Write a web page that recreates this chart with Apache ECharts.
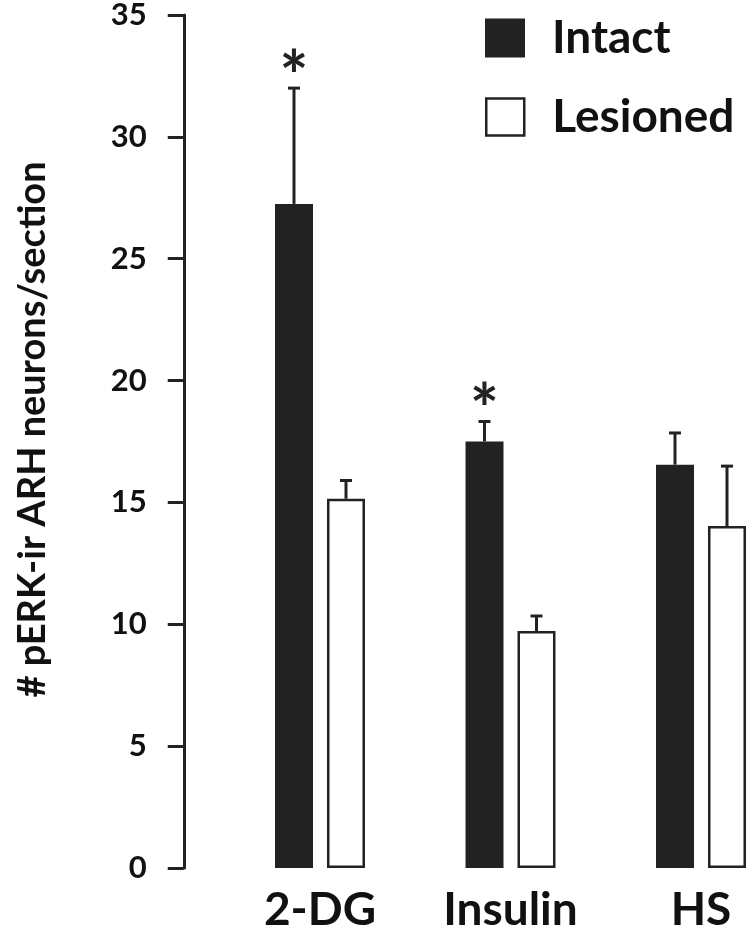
<!DOCTYPE html>
<html>
<head>
<meta charset="utf-8">
<script src="https://cdn.jsdelivr.net/npm/echarts@6/dist/echarts.min.js"></script>
<style>
html, body { margin: 0; padding: 0; background: #fff; }
#chart { width: 750px; height: 935px; }
</style>
</head>
<body>
<div id="chart"></div>
<script>
// data
const categories = ['2-DG', 'Insulin', 'HS'];
const intactValues = [27.25, 17.5, 16.55];
const intactErrors = [4.75, 0.82, 1.3];
const lesionedValues = [15.15, 9.72, 14.03];
const lesionedErrors = [0.75, 0.62, 2.46];
const intactSignificant = [true, true, false];
const yMin = 0;
const yMax = 35;
const yInterval = 5;

const INK = '#222';
const FONT = 'Lato';
const BAR_WIDTH = 38;
const BAR_OFFSET = 26; // half the distance between the centres of a bar pair

function errorBarSeries(name, values, errors, offset, flags) {
  return {
    type: 'custom',
    name: name + ' SEM',
    z: 1,
    silent: true,
    data: values.map((v, i) => [i, v, v + errors[i], flags && flags[i] ? 1 : 0]),
    renderItem(params, api) {
      const base = api.coord([api.value(0), api.value(1)]);
      const top = api.coord([api.value(0), api.value(2)]);
      const x = base[0] + offset;
      const children = [
        { type: 'line', shape: { x1: x, y1: base[1], x2: x, y2: top[1] }, style: { stroke: INK, lineWidth: 3 } },
        { type: 'line', shape: { x1: x - 6, y1: top[1], x2: x + 6, y2: top[1] }, style: { stroke: INK, lineWidth: 3 } }
      ];
      if (api.value(3)) {
        children.push({
          type: 'text',
          x: x,
          y: top[1] - 9,
          style: {
            text: '*',
            fill: INK,
            font: 'bold 68px ' + FONT,
            align: 'center',
            verticalAlign: 'middle'
          }
        });
      }
      return { type: 'group', children };
    }
  };
}

const legendText = {
  fontFamily: FONT,
  fontWeight: 'bold',
  fontSize: 46,
  color: '#111',
  lineHeight: 40,
  padding: [0, 0, 0, 23]
};

const chart = echarts.init(document.getElementById('chart'), null, { renderer: 'canvas' });

chart.setOption({
  animation: false,
  backgroundColor: '#fff',
  grid: {
    left: 224.75,
    top: 15,
    width: 571.5,
    height: 853,
    containLabel: false,
    outerBoundsMode: 'none'
  },
  legend: [
    {
      data: [{ name: 'Intact', icon: 'rect', itemStyle: { color: INK, borderColor: INK, borderWidth: 2 } }],
      left: 485, top: 15, padding: 0,
      itemWidth: 38, itemHeight: 37,
      selectedMode: false,
      textStyle: legendText
    },
    {
      data: [{ name: 'Lesioned', icon: 'rect', itemStyle: { color: '#fff', borderColor: INK, borderWidth: 2.5 } }],
      left: 485, top: 94, padding: 0,
      itemWidth: 38, itemHeight: 37,
      selectedMode: false,
      textStyle: legendText
    }
  ],
  xAxis: {
    type: 'category',
    data: categories,
    axisLine: { show: false },
    axisTick: { show: false },
    splitLine: { show: false },
    axisLabel: {
      margin: 19,
      fontFamily: FONT,
      fontWeight: 'bold',
      fontSize: 46,
      color: '#111'
    }
  },
  yAxis: {
    type: 'value',
    min: yMin,
    max: yMax,
    interval: yInterval,
    offset: 41,
    name: '# pERK-ir ARH neurons/section',
    nameLocation: 'middle',
    nameRotate: 90,
    nameGap: 132,
    nameTextStyle: {
      fontFamily: FONT,
      fontWeight: 'bold',
      fontSize: 38,
      color: '#111',
      padding: [0, 0, 0, 24]
    },
    axisLine: { show: true, lineStyle: { color: INK, width: 3 } },
    axisTick: { show: true, inside: false, length: 16, lineStyle: { color: INK, width: 3 } },
    axisLabel: {
      margin: 37,
      fontFamily: FONT,
      fontWeight: 'bold',
      fontSize: 31,
      color: '#111'
    },
    splitLine: { show: false }
  },
  series: [
    {
      type: 'bar',
      name: 'Intact',
      data: intactValues,
      barWidth: BAR_WIDTH,
      barGap: '36.8%',
      z: 2,
      itemStyle: { color: INK, borderColor: INK, borderWidth: 2 }
    },
    {
      type: 'bar',
      name: 'Lesioned',
      data: lesionedValues,
      barWidth: BAR_WIDTH,
      z: 2,
      itemStyle: { color: '#fff', borderColor: INK, borderWidth: 2.5 }
    },
    errorBarSeries('Intact', intactValues, intactErrors, -BAR_OFFSET, intactSignificant),
    errorBarSeries('Lesioned', lesionedValues, lesionedErrors, BAR_OFFSET, null)
  ]
});
</script>
</body>
</html>
